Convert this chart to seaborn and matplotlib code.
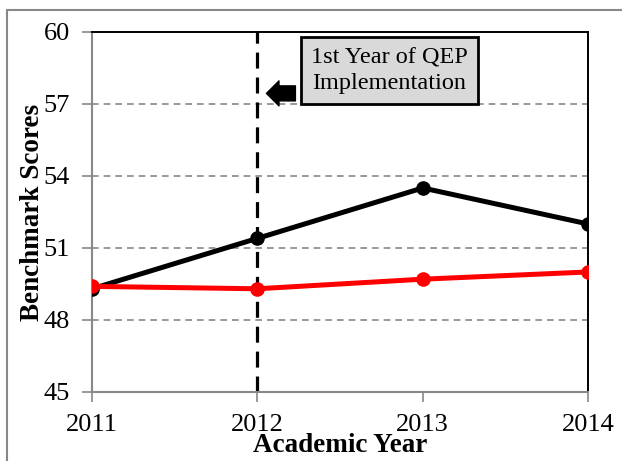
import matplotlib
matplotlib.use("Agg")
import matplotlib.pyplot as plt
import seaborn as sns
import pandas as pd
from matplotlib.lines import Line2D

# datos
years = [2011, 2012, 2013, 2014]
black_scores = [49.3, 51.4, 53.5, 52.0]
red_scores = [49.4, 49.3, 49.7, 50.0]
y_ticks = [45, 48, 51, 54, 57, 60]

df = pd.DataFrame({
    "year": years * 2,
    "score": black_scores + red_scores,
    "serie": ["negra"] * 4 + ["roja"] * 4,
})

sns.set_style("white")
plt.rcParams["font.family"] = ["Liberation Serif", "DejaVu Serif"]
plt.rcParams["text.color"] = "black"
plt.rcParams["axes.labelcolor"] = "black"

fig = plt.figure(figsize=(6.22, 4.61), dpi=100)
ax = fig.add_axes([0.148, 0.1497, 0.7974, 0.781])

# lineas de cuadricula
for yt in y_ticks[1:-1]:
    ax.axhline(yt, color="#888888", lw=1.2, ls=(0, (4, 3)), zorder=1)

sns.lineplot(data=df, x="year", y="score", hue="serie",
             palette={"negra": "black", "roja": "#ff0000"},
             marker="o", markersize=10.5, markeredgewidth=0, linewidth=3.6,
             legend=False, ax=ax, zorder=3)

# linea vertical del primer anio del QEP
ax.axvline(2012, color="black", lw=2.3, ls=(0, (5, 2.8)), zorder=2)

ax.set_xlim(2011, 2014)
ax.set_ylim(45, 60)
ax.set_xticks(years)
ax.set_yticks(y_ticks)
ax.tick_params(axis="both", labelsize=19, direction="out", length=7,
               color="#888888", labelcolor="black", width=1.2,
               bottom=True, left=True)
ax.tick_params(axis="y", pad=9)
ax.tick_params(axis="x", pad=9)
ax.set_xlabel("Academic Year", fontsize=19.5, fontweight="bold", labelpad=-2)
ax.set_ylabel("Benchmark Scores", fontsize=19.5, fontweight="bold", labelpad=-1)

for s in ["left", "bottom"]:
    ax.spines[s].set_color("#888888")
    ax.spines[s].set_linewidth(1.5)
for s in ["top", "right"]:
    ax.spines[s].set_color("black")
    ax.spines[s].set_linewidth(1.4)

# caja de texto
ax.text(2012.80, 58.38, "1st Year of QEP\nImplementation", fontsize=17.5,
        ha="center", va="center", linespacing=1.3, zorder=5,
        bbox=dict(boxstyle="square,pad=0.42", fc="#d9d9d9", ec="black", lw=2))

# flecha
ax.annotate("", xy=(2012.055, 57.44), xytext=(2012.23, 57.44),
            arrowprops=dict(arrowstyle="simple,head_length=0.5,head_width=1.0,tail_width=0.6",
                            mutation_scale=18, fc="black", ec="black",
                            shrinkA=0, shrinkB=0), zorder=5)

# borde exterior (solo arriba e izquierda visibles)
fig.add_artist(Line2D([7 / 622, 1], [1 - 10 / 461, 1 - 10 / 461],
                      transform=fig.transFigure, color="#888888", lw=1.5))
fig.add_artist(Line2D([7 / 622, 7 / 622], [0, 1 - 10 / 461],
                      transform=fig.transFigure, color="#888888", lw=1.5))

fig.savefig("out.png", dpi=100)
